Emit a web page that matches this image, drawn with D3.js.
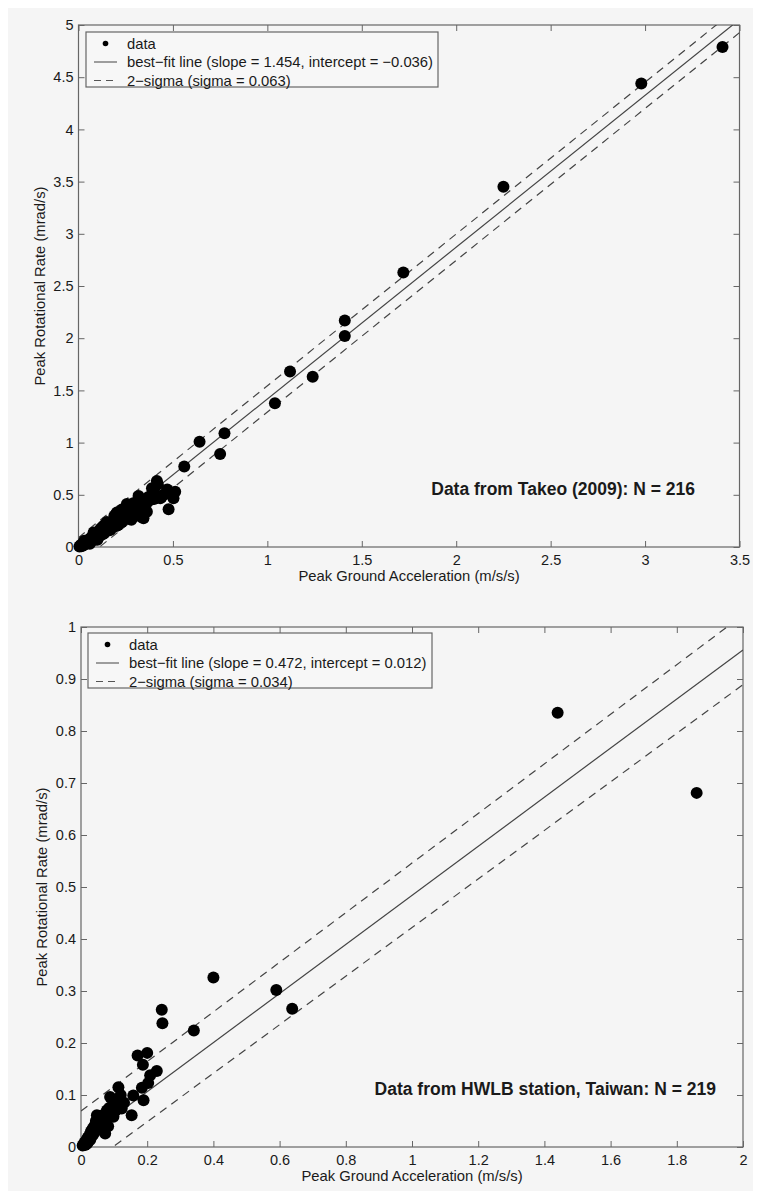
<!DOCTYPE html>
<html>
<head>
<meta charset="utf-8">
<script src="https://cdn.jsdelivr.net/npm/d3@7"></script>
<style>
  body { margin: 0; background: #fff; }
  svg { display: block; font-family: "Liberation Sans", Arial, sans-serif; }
</style>
</head>
<body>
<svg width="761" height="1191"></svg>
<script>
// --- data ---
const takeoXTicks = [0, 0.5, 1, 1.5, 2, 2.5, 3, 3.5];
const takeoYTicks = [0, 0.5, 1, 1.5, 2, 2.5, 3, 3.5, 4, 4.5, 5];
const takeoPoints = [
  [0.005,0.005],[0.01,0.01],[0.012,0.02],[0.015,0.008],[0.02,0.02],[0.022,0.03],[0.025,0.015],
  [0.03,0.035],[0.03,0.025],[0.03,0.06],[0.035,0.04],[0.04,0.03],[0.04,0.05],[0.045,0.045],[0.05,0.06],
  [0.05,0.04],[0.055,0.07],[0.06,0.05],[0.06,0.03],[0.06,0.08],[0.065,0.065],[0.07,0.09],[0.07,0.06],
  [0.075,0.1],[0.08,0.08],[0.08,0.11],[0.08,0.14],[0.085,0.07],[0.09,0.12],[0.09,0.1],[0.095,0.13],
  [0.1,0.11],[0.1,0.14],[0.1,0.07],[0.105,0.09],[0.11,0.15],[0.11,0.12],[0.115,0.17],[0.12,0.14],
  [0.12,0.18],[0.125,0.12],[0.13,0.2],[0.13,0.16],[0.135,0.13],[0.14,0.19],[0.14,0.21],
  [0.145,0.16],[0.15,0.2],[0.15,0.24],[0.155,0.18],[0.16,0.22],[0.165,0.16],[0.17,0.21],[0.17,0.17],
  [0.175,0.24],[0.18,0.19],[0.185,0.22],[0.19,0.26],[0.19,0.3],[0.2,0.2],[0.203,0.33],[0.21,0.25],
  [0.21,0.21],[0.22,0.29],[0.23,0.24],[0.23,0.36],[0.24,0.34],[0.25,0.3],[0.256,0.412],[0.26,0.31],
  [0.27,0.35],[0.27,0.27],[0.28,0.26],[0.29,0.42],[0.3,0.38],[0.31,0.35],[0.31,0.43],
  [0.318,0.488],[0.33,0.29],[0.34,0.4],[0.344,0.275],[0.35,0.37],[0.362,0.338],[0.36,0.42],
  [0.37,0.48],[0.38,0.45],[0.389,0.562],[0.4,0.46],[0.4,0.55],[0.415,0.632],[0.42,0.6],
  [0.433,0.466],[0.44,0.48],[0.45,0.5],[0.47,0.55],[0.477,0.361],[0.49,0.5],[0.503,0.466],
  [0.512,0.53],[0.56,0.77],[0.641,1.009],[0.75,0.89],[0.773,1.089],[1.04,1.376],[1.12,1.68],
  [1.24,1.63],[1.41,2.02],[1.41,2.17],[1.72,2.63],[2.25,3.45],[2.98,4.44],[3.41,4.79]
];
const takeoFit = [1.454, -0.036];          // slope, intercept
const takeoBand = [[1.454, 0.09], [1.454, -0.162]]; // dashed lines: slope, intercept
const takeoLegend = ["data", "best\u2212fit line (slope = 1.454, intercept = \u22120.036)", "2\u2212sigma (sigma = 0.063)"];
const takeoNote = "Data from Takeo (2009): N = 216";

const hwlbXTicks = [0, 0.2, 0.4, 0.6, 0.8, 1, 1.2, 1.4, 1.6, 1.8, 2];
const hwlbYTicks = [0, 0.1, 0.2, 0.3, 0.4, 0.5, 0.6, 0.7, 0.8, 0.9, 1];
const hwlbPoints = [
  [0.005,0.003],[0.01,0.008],[0.012,0.004],[0.015,0.012],[0.018,0.006],[0.02,0.018],[0.022,0.01],
  [0.025,0.022],[0.028,0.014],[0.03,0.03],[0.032,0.02],[0.035,0.035],[0.038,0.025],[0.04,0.04],
  [0.042,0.03],[0.045,0.05],[0.048,0.061],[0.05,0.035],[0.052,0.045],[0.055,0.055],[0.058,0.04],
  [0.06,0.06],[0.06,0.045],[0.065,0.05],[0.068,0.035],[0.07,0.06],[0.073,0.026],[0.075,0.045],
  [0.078,0.07],[0.08,0.055],[0.082,0.04],[0.085,0.075],[0.088,0.096],[0.09,0.06],[0.095,0.08],
  [0.098,0.058],[0.1,0.09],[0.105,0.07],[0.113,0.115],[0.12,0.1],[0.123,0.074],[0.13,0.085],
  [0.153,0.061],[0.158,0.099],[0.171,0.176],[0.184,0.114],[0.187,0.158],[0.189,0.09],[0.2,0.181],
  [0.203,0.123],[0.209,0.138],[0.229,0.146],[0.244,0.264],[0.246,0.238],[0.341,0.224],
  [0.4,0.326],[0.59,0.302],[0.638,0.266],[1.44,0.835],[1.86,0.681]
];
const hwlbFit = [0.472, 0.012];
const hwlbBand = [[0.477, 0.069], [0.467, -0.045]];
const hwlbLegend = ["data", "best\u2212fit line (slope = 0.472, intercept = 0.012)", "2\u2212sigma (sigma = 0.034)"];
const hwlbNote = "Data from HWLB station, Taiwan: N = 219";

const svg = d3.select('svg');
svg.append('rect').attr('x', 8).attr('y', 8).attr('width', 745).attr('height', 1183).attr('fill', '#f5f5f5');

const axisColor = '#666';
const textColor = '#1a1a1a';

function drawPanel(cfg) {
  const {id, box, xDomain, yDomain, xTicks, yTicks, points, fit, band, legend, legendBox, note, notePos} = cfg;
  const x = d3.scaleLinear().domain(xDomain).range([box.left, box.right]);
  const y = d3.scaleLinear().domain(yDomain).range([box.bottom, box.top]);
  const g = svg.append('g');

  g.append('clipPath').attr('id', id)
    .append('rect')
    .attr('x', box.left).attr('y', box.top)
    .attr('width', box.right - box.left).attr('height', box.bottom - box.top);

  const fmt = d => String(d);
  const styleAxis = sel => {
    sel.select('.domain').remove();
    sel.selectAll('.tick line').attr('stroke', axisColor);
    sel.selectAll('.tick text').attr('fill', textColor).style('font-size', '14.5px').attr('font-family', null);
  };

  g.append('g').attr('transform', `translate(0,${box.bottom})`)
    .call(d3.axisBottom(x).tickValues(xTicks).tickFormat(fmt).tickSizeInner(-6).tickSizeOuter(0).tickPadding(8))
    .call(styleAxis);
  g.append('g').attr('transform', `translate(0,${box.top})`)
    .call(d3.axisTop(x).tickValues(xTicks).tickFormat('').tickSizeInner(-6).tickSizeOuter(0))
    .call(styleAxis);
  g.append('g').attr('transform', `translate(${box.left},0)`)
    .call(d3.axisLeft(y).tickValues(yTicks).tickFormat(fmt).tickSizeInner(-6).tickSizeOuter(0).tickPadding(5))
    .call(styleAxis);
  g.append('g').attr('transform', `translate(${box.right},0)`)
    .call(d3.axisRight(y).tickValues(yTicks).tickFormat('').tickSizeInner(-6).tickSizeOuter(0))
    .call(styleAxis);

  g.append('rect')
    .attr('x', box.left).attr('y', box.top)
    .attr('width', box.right - box.left).attr('height', box.bottom - box.top)
    .attr('fill', 'none').attr('stroke', axisColor).attr('stroke-width', 1.2);

  // fit and 2-sigma lines
  const lineOf = ([m, c]) => xDomain.map(v => [x(v), y(m * v + c)]);
  const lines = g.append('g').attr('clip-path', `url(#${id})`);
  lines.append('path').attr('d', d3.line()(lineOf(fit)))
    .attr('stroke', '#444').attr('stroke-width', 1.2).attr('fill', 'none');
  band.forEach(b => {
    lines.append('path').attr('d', d3.line()(lineOf(b)))
      .attr('stroke', '#444').attr('stroke-width', 1.2).attr('fill', 'none')
      .attr('stroke-dasharray', '8,6');
  });

  g.append('g').selectAll('circle')
    .data(points).enter()
    .append('circle')
    .attr('cx', d => x(d[0]))
    .attr('cy', d => y(d[1]))
    .attr('r', 6)
    .attr('fill', '#000');

  // legend
  const lg = g.append('g');
  lg.append('rect')
    .attr('x', legendBox.x).attr('y', legendBox.y)
    .attr('width', legendBox.w).attr('height', legendBox.h)
    .attr('fill', '#f7f7f7').attr('stroke', axisColor).attr('stroke-width', 1.2);
  legend.forEach((label, i) => {
    const cy = legendBox.y + 11.5 + i * 18.5;
    const mx0 = legendBox.x + 8, mx1 = legendBox.x + 31;
    if (i === 0) {
      lg.append('circle').attr('cx', (mx0 + mx1) / 2).attr('cy', cy).attr('r', 2.8).attr('fill', '#000');
    } else {
      lg.append('line').attr('x1', mx0).attr('x2', mx1).attr('y1', cy).attr('y2', cy)
        .attr('stroke', '#555').attr('stroke-width', 1.1)
        .attr('stroke-dasharray', i === 2 ? '7,5' : null);
    }
    lg.append('text').attr('x', legendBox.x + 41).attr('y', cy).attr('dy', '0.35em')
      .attr('fill', textColor).style('font-size', '14.8px').text(label);
  });

  g.append('text').attr('x', notePos[0]).attr('y', notePos[1])
    .attr('text-anchor', 'end').attr('fill', textColor)
    .style('font-size', '17.5px').style('font-weight', 'bold').text(note);

  g.append('text')
    .attr('x', (box.left + box.right) / 2).attr('y', box.bottom + 34)
    .attr('text-anchor', 'middle').attr('fill', textColor).style('font-size', '14.8px')
    .text('Peak Ground Acceleration (m/s/s)');
  g.append('text')
    .attr('transform', `translate(${box.left - 34},${(box.top + box.bottom) / 2}) rotate(-90)`)
    .attr('text-anchor', 'middle').attr('fill', textColor).style('font-size', '14.8px')
    .text('Peak Rotational Rate (mrad/s)');
}

drawPanel({
  id: 'clipTop',
  box: {left: 78.5, right: 739.5, top: 25, bottom: 547},
  xDomain: [0, 3.5], yDomain: [0, 5],
  xTicks: takeoXTicks, yTicks: takeoYTicks,
  points: takeoPoints, fit: takeoFit, band: takeoBand,
  legend: takeoLegend, legendBox: {x: 86, y: 32, w: 352, h: 55},
  note: takeoNote, notePos: [695, 495]
});

drawPanel({
  id: 'clipBottom',
  box: {left: 81, right: 743, top: 627, bottom: 1147},
  xDomain: [0, 2], yDomain: [0, 1],
  xTicks: hwlbXTicks, yTicks: hwlbYTicks,
  points: hwlbPoints, fit: hwlbFit, band: hwlbBand,
  legend: hwlbLegend, legendBox: {x: 88, y: 633, w: 344, h: 55},
  note: hwlbNote, notePos: [716, 1095]
});
</script>
</body>
</html>
